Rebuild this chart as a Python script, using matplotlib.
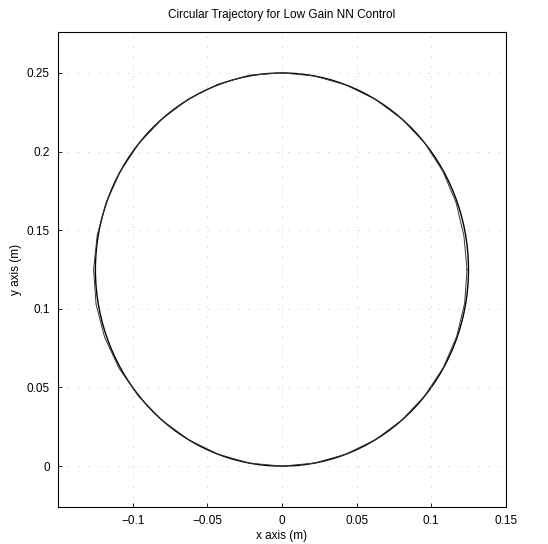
import numpy as np
import matplotlib
matplotlib.use("Agg")
import matplotlib.pyplot as plt
from matplotlib.patches import Circle

# desired trajectory: circle
desired_center = (0.0, 0.125)
desired_radius = 0.125

# actual trajectory: radius about the same centre, read every 10 degrees
actual_angle_deg = [0, 10, 20, 30, 40, 50, 60, 70, 80, 90, 100, 110, 120,
                    130, 140, 150, 160, 170, 180, 190, 200, 210, 220, 230,
                    240, 250, 260, 270, 280, 290, 300, 310, 320, 330, 340,
                    350, 360]
actual_radius = [0.1240, 0.1238, 0.1242, 0.1246, 0.1250, 0.1250, 0.1250,
                 0.1250, 0.1250, 0.1251, 0.1255, 0.1254, 0.1252, 0.1250,
                 0.1250, 0.1250, 0.1252, 0.1257, 0.1262, 0.1265, 0.1264,
                 0.1259, 0.1254, 0.1251, 0.1250, 0.1250, 0.1250, 0.1250,
                 0.1250, 0.1250, 0.1250, 0.1250, 0.1249, 0.1248, 0.1246,
                 0.1243, 0.1240]

x_ticks = [-0.1, -0.05, 0, 0.05, 0.1, 0.15]
x_tick_labels = ["\u22120.1", "\u22120.05", "0", "0.05", "0.1", "0.15"]
y_ticks = [0, 0.05, 0.1, 0.15, 0.2, 0.25]
y_tick_labels = ["0", "0.05", "0.1", "0.15", "0.2", "0.25"]

plt.rcParams['font.family'] = ['Liberation Sans', 'DejaVu Sans']

fig = plt.figure(figsize=(5.48, 5.44), dpi=100)
ax = fig.add_axes([0.106, 0.068, 0.817, 0.873])

ang = np.radians(actual_angle_deg)
r = np.array(actual_radius)
ax.plot(desired_center[0] + r * np.cos(ang), desired_center[1] + r * np.sin(ang),
        color="#333333", lw=0.7)
ax.add_patch(Circle(desired_center, desired_radius, fill=False,
                    edgecolor="black", lw=1.0))

ax.set_xlim(-0.15, 0.15)
ax.set_ylim(-0.026, 0.276)
ax.set_xticks(x_ticks)
ax.set_xticklabels(x_tick_labels)
ax.set_yticks(y_ticks)
ax.set_yticklabels(y_tick_labels)
ax.tick_params(direction="in", length=3, labelsize=8.5, width=0.6, pad=6)
ax.grid(True, color="#aaaaaa", linestyle=(0, (1, 11)), lw=0.6)
for s in ax.spines.values():
    s.set_linewidth(0.8)

ax.set_title("Circular Trajectory for Low Gain NN Control", fontsize=8.5, pad=10)
ax.set_xlabel("x axis (m)", fontsize=8.5, labelpad=2)
ax.set_ylabel("y axis (m)", fontsize=8.5, labelpad=3)

fig.savefig("out.png", dpi=100)
